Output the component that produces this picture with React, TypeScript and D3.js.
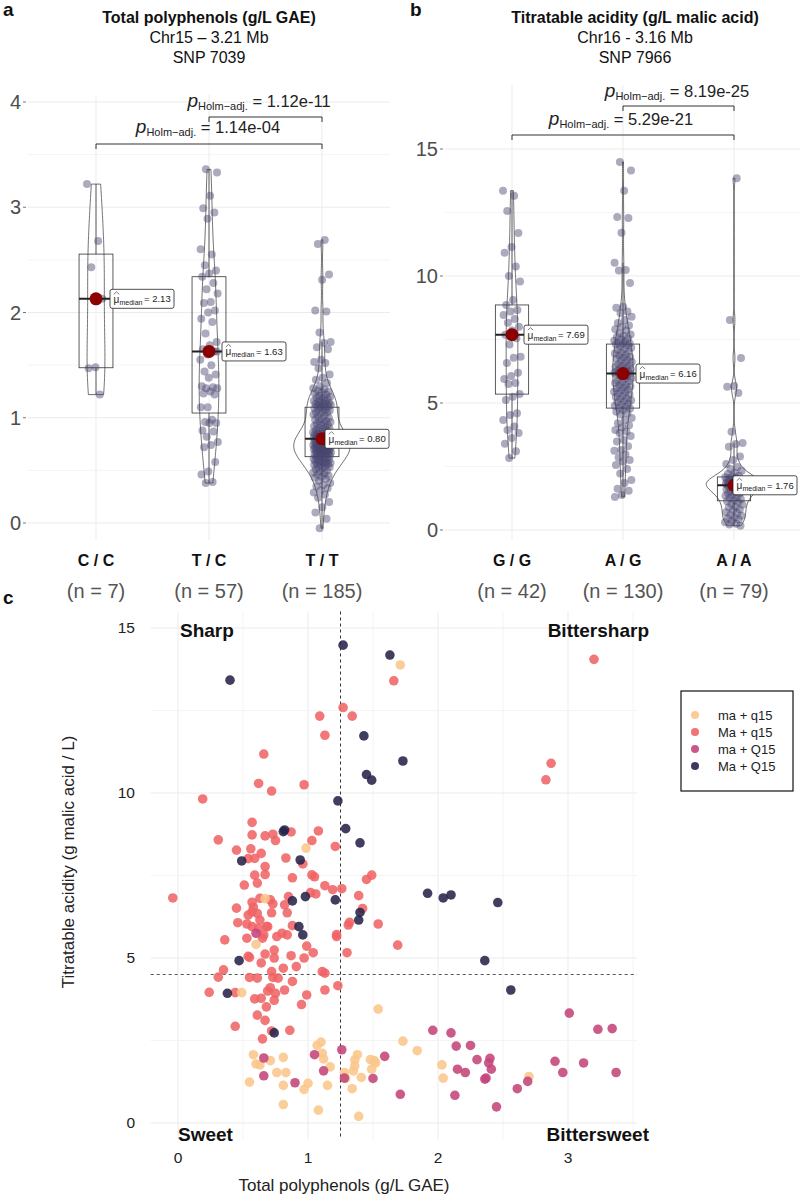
import React from "react";
import * as d3 from "d3";

const FONT = "'Liberation Sans', Arial, Helvetica, sans-serif";

// ---------- panel a : total polyphenols by SNP 7039 genotype ----------
const genoA = ["C / C", "T / C", "T / T"];
const countsA = [7, 57, 185];
const polyCC = [3.22, 2.68, 2.43, 2.13, 1.48, 1.47, 1.22];
const polyTC = [
  3.36, 3.33, 3.11, 2.99, 2.95, 2.89, 2.6, 2.55, 2.45, 2.4, 2.37, 2.34, 2.28, 2.22, 2.18, 2.1, 2.09, 2.02, 2.0,
  1.94, 1.91, 1.8, 1.72, 1.69, 1.65, 1.63, 1.6, 1.55, 1.5, 1.44, 1.41, 1.38, 1.3, 1.29, 1.28, 1.28, 1.25, 1.23,
  1.22, 1.1, 1.1, 0.98, 0.96, 0.95, 0.95, 0.88, 0.87, 0.82, 0.77, 0.74, 0.72, 0.58, 0.49, 0.46, 0.39, 0.38, 1.63,
];
const polyTT = [
  2.69, 2.65, 2.36, 2.31, 2.02, 2.01, 1.81, 1.72, 1.71, 1.67, 1.65, 1.55, 1.53, 1.52, 1.47, 1.41, 1.38, 1.36,
  1.33, 1.3, 1.28, 1.27, 1.26, 1.25, 1.24, 1.23, 1.22, 1.21, 1.2, 1.19, 1.19, 1.18, 1.17, 1.16, 1.16, 1.15,
  1.14, 1.14, 1.13, 1.13, 1.12, 1.12, 1.11, 1.11, 1.11, 1.1,
  1.09, 1.08, 1.08, 1.07, 1.06, 1.05, 1.05, 1.04, 1.03, 1.02, 1.01, 1.0, 0.99, 0.98, 0.97, 0.97, 0.96, 0.95,
  0.94, 0.93, 0.93, 0.92, 0.91, 0.9, 0.9, 0.89, 0.88, 0.88, 0.87, 0.86, 0.86, 0.85, 0.85, 0.84, 0.84, 0.83,
  0.83, 0.82, 0.82, 0.82, 0.81, 0.81, 0.81, 0.81, 0.8, 0.8, 0.8,
  0.79, 0.79, 0.79, 0.78, 0.78, 0.78, 0.77, 0.77, 0.77, 0.76, 0.76, 0.76, 0.75, 0.75, 0.75, 0.74, 0.74, 0.74,
  0.73, 0.73, 0.73, 0.72, 0.72, 0.72, 0.71, 0.71, 0.71, 0.7, 0.7, 0.7, 0.69, 0.69, 0.69, 0.68, 0.68, 0.68,
  0.67, 0.67, 0.67, 0.66, 0.66, 0.66, 0.65, 0.65, 0.64, 0.64,
  0.63, 0.63, 0.62, 0.62, 0.61, 0.61, 0.6, 0.6, 0.59, 0.59, 0.58, 0.58, 0.57, 0.57, 0.56, 0.56, 0.55, 0.55,
  0.54, 0.53, 0.53, 0.52, 0.51, 0.5, 0.49, 0.48, 0.47, 0.46, 0.45, 0.44, 0.43, 0.42, 0.4, 0.38, 0.36, 0.35,
  0.33, 0.31, 0.29, 0.27, 0.24, 0.2, 0.15, 0.1, 0.04, -0.05,
];
const q1A = [1.475, 1.045, 0.63];
const medA = [2.13, 1.63, 0.8];
const q3A = [2.555, 2.34, 1.1];
const pvalA = ["1.12e-11", "1.14e-04"];

// ---------- panel b : titratable acidity by SNP 7966 genotype ----------
const genoB = ["G / G", "A / G", "A / A"];
const countsB = [42, 130, 79];
const acidGG = [
  13.36, 13.16, 12.56, 11.69, 11.14, 10.92, 10.37, 10.0, 9.78, 9.06, 8.86, 8.66, 8.6, 8.46, 8.31, 8.16, 8.0,
  7.85, 7.69, 7.55, 7.3, 6.82, 6.78, 6.57, 6.19, 6.06, 5.94, 5.79, 5.75, 5.35, 5.25, 5.12, 4.6, 4.53, 4.33,
  4.07, 3.94, 3.82, 3.62, 3.4, 3.1, 2.83,
];
const acidAG = [
  14.49, 14.15, 13.36, 12.32, 12.28, 11.7, 10.52, 10.24, 10.22, 9.72, 8.79, 8.75, 8.6, 8.54, 8.4, 8.27, 8.15,
  8.05, 8.0, 7.9, 7.85, 7.75, 7.7, 7.65, 7.6, 7.55, 7.5, 7.45, 7.42, 7.38, 7.35, 7.33,
  7.31, 7.27, 7.22, 7.18, 7.14, 7.09, 7.03, 6.98, 6.95, 6.9, 6.87, 6.81, 6.79, 6.74, 6.7, 6.66, 6.61, 6.58,
  6.53, 6.49, 6.47, 6.43, 6.4, 6.35, 6.33, 6.29, 6.26, 6.24, 6.21, 6.2, 6.18, 6.17, 6.16,
  6.13, 6.11, 6.05, 6.03, 5.97, 5.95, 5.88, 5.86, 5.81, 5.79, 5.72, 5.7, 5.65, 5.61, 5.57, 5.52, 5.49, 5.44,
  5.41, 5.37, 5.33, 5.28, 5.24, 5.19, 5.16, 5.11, 5.07, 5.03, 4.98, 4.94, 4.89, 4.86, 4.81,
  4.78, 4.72, 4.66, 4.6, 4.55, 4.41, 4.33, 4.2, 4.12, 4.05, 3.94, 3.88, 3.82, 3.7, 3.54, 3.48, 3.3, 3.15, 3.12,
  2.98, 2.85, 2.76, 2.7, 2.56, 2.4, 2.22, 1.97, 1.85, 1.62, 1.55, 1.38, 1.3,
];
const acidAA = [
  13.85, 8.27, 6.77, 5.67, 5.64, 5.39, 3.87, 3.43, 3.39, 3.28, 2.89, 2.76, 2.6, 2.48, 2.4, 2.33, 2.25, 2.2,
  2.14, 2.11, 2.08, 2.05, 2.04, 2.0, 1.98, 1.97, 1.94, 1.93, 1.91, 1.89, 1.88, 1.86, 1.85, 1.83, 1.82, 1.8,
  1.79, 1.78, 1.77, 1.76, 1.75, 1.73, 1.7, 1.69, 1.66, 1.64, 1.6, 1.59, 1.55, 1.51, 1.5, 1.45, 1.43, 1.37,
  1.35, 1.29, 1.27, 1.21, 1.17, 1.13, 1.09, 1.03, 0.99, 0.92, 0.89, 0.81, 0.78, 0.7, 0.67, 0.59, 0.56, 0.49,
  0.46, 0.41, 0.34, 0.31, 0.25, 0.22, 0.17,
];
const q1B = [5.35, 4.8, 1.15];
const medB = [7.69, 6.16, 1.76];
const q3B = [8.86, 7.32, 2.09];
const pvalB = ["8.19e-25", "5.29e-21"];

// ---------- panel c : polyphenols vs acidity, [g/L GAE, g malic acid/L] ----------
const groupsC = ["ma + q15", "Ma + q15", "ma + Q15", "Ma + Q15"];
const colorsC = ["#FBC68A", "#EF6465", "#C4457A", "#28234A"];
const ptsMaq = [
  [1.66, 13.4], [1.27, 12.59], [1.09, 12.33], [1.34, 12.33], [1.13, 11.75], [0.66, 11.18], [0.62, 10.29],
  [0.97, 10.25], [0.72, 10.06], [0.19, 9.82], [0.57, 9.11], [0.31, 8.58], [0.57, 8.73], [0.67, 8.7],
  [0.73, 8.75], [0.75, 8.56], [0.87, 8.82], [1.08, 8.85], [1.03, 8.56], [1.21, 8.38], [0.45, 8.27],
  [0.56, 8.31], [0.64, 8.17], [0.54, 8.01], [0.59, 8.02], [0.83, 8.03], [0.96, 7.85], [0.67, 7.77],
  [0.59, 7.51], [0.67, 7.53], [0.88, 7.43], [1.03, 7.52], [1.05, 7.46], [0.61, 7.27], [0.51, 7.21],
  [1.13, 7.19], [1.19, 7.07], [1.26, 7.1], [1.45, 7.38], [1.49, 7.51], [-0.04, 6.82], [1.02, 6.98],
  [1.06, 6.94], [1.39, 6.89], [2.87, 10.9], [2.83, 10.4], [3.2, 14.05],
  [0.63, 6.81], [0.57, 6.69], [0.71, 6.76], [0.85, 6.86], [0.73, 6.64], [0.82, 6.61], [0.45, 6.51],
  [0.58, 6.54], [0.57, 6.4], [0.54, 6.3], [0.63, 6.15], [0.61, 6.35], [0.68, 5.95], [0.72, 6.37],
  [0.84, 6.37], [1.42, 6.5], [1.31, 6.0], [1.54, 6.03], [1.69, 5.39], [0.46, 6.07], [0.53, 6.03],
  [0.57, 5.95], [0.62, 5.9], [0.66, 5.7], [0.69, 5.95], [0.8, 5.75], [0.76, 5.65], [0.84, 5.7], [0.88, 5.98],
  [0.36, 5.55], [0.53, 5.6], [0.65, 5.6], [0.99, 5.36], [1.04, 5.16], [1.22, 5.65], [0.67, 5.12],
  [0.74, 5.24], [0.55, 5.02], [1.3, 5.16], [1.32, 6.08],
  [0.24, 3.96], [0.31, 4.42], [0.35, 4.64], [0.44, 3.95], [0.44, 2.93], [0.55, 4.41], [0.61, 4.39],
  [0.59, 3.76], [0.64, 3.78], [0.61, 3.27], [0.65, 2.55], [0.67, 3.11], [0.68, 3.52], [0.69, 4.0],
  [0.71, 4.1], [0.73, 4.41], [0.72, 4.59], [0.74, 3.72], [0.75, 3.93], [0.77, 4.39], [0.81, 4.69],
  [0.82, 4.03], [0.88, 4.29], [0.91, 4.74], [0.86, 2.81], [0.72, 2.79], [0.95, 3.59], [0.99, 3.88],
  [0.97, 5.0], [1.11, 4.59], [1.13, 4.54], [1.13, 4.03], [1.23, 4.16], [1.22, 5.71], [0.64, 4.85],
  [0.74, 5.0], [0.54, 5.05], [0.87, 5.07],
];
const ptsmaq = [
  [1.71, 13.88], [0.985, 8.33], [0.67, 6.8], [0.6, 5.41], [0.49, 3.95], [1.54, 3.45], [1.07, 2.35],
  [1.1, 2.45], [1.11, 2.11], [1.12, 1.94], [0.58, 2.07], [0.6, 1.79], [0.63, 1.76], [0.71, 1.89], [0.81, 1.99],
  [0.76, 1.53], [0.83, 1.53], [0.55, 1.24], [0.81, 1.14], [0.97, 1.02], [1.0, 1.2], [0.81, 0.56], [1.08, 0.39],
  [1.15, 1.14], [1.17, 1.7], [1.28, 1.53], [1.29, 1.35], [1.41, 1.38], [1.34, 1.04], [1.35, 1.58],
  [1.36, 1.91], [1.38, 2.07], [1.36, 1.73], [1.49, 1.63], [1.51, 1.89], [1.48, 1.92], [1.52, 1.82],
  [1.39, 0.2], [1.73, 2.48], [1.84, 2.19], [2.03, 1.76], [2.04, 1.36], [2.7, 1.41],
];
const ptsmaQ = [
  [0.6, 5.75], [1.26, 2.22], [1.28, 1.36], [1.05, 2.07], [1.12, 1.58], [0.9, 1.22], [0.66, 1.97], [0.66, 1.43],
  [1.5, 1.35], [1.59, 2.02], [1.71, 0.87], [1.96, 2.81], [2.1, 2.73], [2.14, 2.33], [2.25, 2.35], [2.3, 1.92],
  [2.39, 1.82], [2.4, 1.96], [2.41, 1.63], [2.15, 1.63], [2.21, 1.53], [2.36, 1.33], [2.37, 1.36],
  [2.13, 0.84], [2.45, 0.49], [2.61, 1.04], [2.69, 1.26], [2.9, 1.87], [2.96, 1.53], [3.01, 3.33],
  [3.12, 1.82], [3.23, 2.84], [3.34, 2.86], [3.37, 1.53],
];
const ptsMaQ = [
  [1.27, 14.48], [1.63, 14.18], [0.4, 13.42], [1.43, 11.73], [1.73, 10.97], [1.45, 10.56], [1.49, 10.39],
  [1.23, 9.76], [0.81, 8.83], [0.82, 8.88], [1.29, 8.92], [1.4, 8.49], [0.49, 7.94], [0.94, 7.97],
  [1.92, 6.96], [0.88, 6.73], [0.98, 6.86], [1.21, 6.76], [2.04, 6.82], [2.1, 6.91], [2.46, 6.68],
  [1.4, 6.38], [1.39, 6.15], [0.93, 5.95], [0.96, 5.7], [2.36, 4.92], [0.47, 4.92], [2.56, 4.03],
  [0.38, 3.93], [0.74, 2.73],
];
const thresholdTP = 1.25;
const thresholdTA = 4.5;

// ---------- helpers ----------
type Dens = { v: number; d: number };

function kde(values: number[]): Dens[] {
  const s = [...values].sort(d3.ascending);
  const n = s.length;
  const sd = d3.deviation(s) ?? 1;
  const iqr = d3.quantile(s, 0.75)! - d3.quantile(s, 0.25)!;
  let bw = 0.9 * Math.min(sd, iqr / 1.34) * Math.pow(n, -0.2);
  if (!(bw > 0)) bw = 0.9 * sd * Math.pow(n, -0.2);
  const lo = s[0], hi = s[n - 1];
  return d3.range(0, 161).map(i => {
    const v = lo + ((hi - lo) * i) / 160;
    const d = d3.mean(s, x => Math.exp(-0.5 * ((v - x) / bw) ** 2))! / (bw * Math.sqrt(2 * Math.PI));
    return { v, d };
  });
}

// fixed horizontal spread for the jittered points
const jit = (i: number) => ((i * 0.6180339887) % 1) - 0.5;

type Bracket = { a: number; b: number; label: string; by: number; ty: number; tx: number };

type VProps = {
  tag: string; tagX: number; title: string[]; titleX: number;
  cats: string[]; counts: number[]; groups: number[][];
  q1: number[]; med: number[]; q3: number[];
  xs: [number, number]; yDomain: [number, number]; yRange: [number, number];
  gridX: [number, number]; gridY: [number, number];
  ticks: number[]; minor: number[]; tickX: number;
  brackets: Bracket[]; nudge: number[];
};

function ViolinPanel(p: VProps) {
  const x = d3.scalePoint<string>().domain(p.cats).range(p.xs);
  const y = d3.scaleLinear().domain(p.yDomain).range(p.yRange);
  const dens = p.groups.map(kde);
  const dmax = d3.max(dens, g => d3.max(g, d => d.d))!;
  const half = x.step() * 0.25;
  const boxW = x.step() * 0.3;

  return (
    <g>
      {p.minor.map(t => (
        <line key={"m" + t} x1={p.gridX[0]} x2={p.gridX[1]} y1={y(t)} y2={y(t)} stroke="#F4F4F4" />
      ))}
      {p.ticks.map(t => (
        <line key={"g" + t} x1={p.gridX[0]} x2={p.gridX[1]} y1={y(t)} y2={y(t)} stroke="#EBEBEB" />
      ))}
      {p.cats.map(c => (
        <line key={"v" + c} x1={x(c)} x2={x(c)} y1={p.gridY[0]} y2={p.gridY[1]} stroke="#EBEBEB" />
      ))}
      {p.ticks.map(t => (
        <g key={"t" + t}>
          <line x1={p.tickX + 2} x2={p.tickX + 5} y1={y(t)} y2={y(t)} stroke="#777" />
          <text x={p.tickX} y={y(t)} dy="0.35em" textAnchor="end" fontSize={20} fill="#4D4D4D">{t}</text>
        </g>
      ))}

      {dens.map((g, i) => {
        const cx = x(p.cats[i])!;
        const area = d3.area<Dens>()
          .y(d => y(d.v))
          .x0(d => cx - (half * d.d) / dmax)
          .x1(d => cx + (half * d.d) / dmax)
          .curve(d3.curveMonotoneY);
        return <path key={"vi" + i} d={area(g)!} fill="#fff" fillOpacity={0.2} stroke="#333" strokeWidth={0.7} />;
      })}

      {p.groups.map((vals, i) => {
        const cx = x(p.cats[i])!;
        const iqr = p.q3[i] - p.q1[i];
        const lo = d3.min(vals.filter(v => v >= p.q1[i] - 1.5 * iqr))!;
        const hi = d3.max(vals.filter(v => v <= p.q3[i] + 1.5 * iqr))!;
        return (
          <g key={"b" + i}>
            <line x1={cx} x2={cx} y1={y(p.q3[i])} y2={y(hi)} stroke="#333" strokeWidth={0.8} />
            <line x1={cx} x2={cx} y1={y(p.q1[i])} y2={y(lo)} stroke="#333" strokeWidth={0.8} />
            <rect x={cx - boxW / 2} width={boxW} y={y(p.q3[i])} height={y(p.q1[i]) - y(p.q3[i])}
              fill="none" stroke="#333" strokeWidth={0.8} />
          </g>
        );
      })}

      {p.groups.map((vals, i) => {
        const cx = x(p.cats[i])!;
        return vals.map((v, k) => (
          <circle key={"p" + i + "-" + k} cx={cx + jit(k + i * 7) * 18} cy={y(v)} r={4}
            fill="#46446E" fillOpacity={0.45} />
        ));
      })}

      {p.med.map((m, i) => {
        const cx = x(p.cats[i])!;
        const ym = y(m);
        const lx = cx + p.nudge[i];
        return (
          <g key={"md" + i}>
            <line x1={cx - boxW / 2} x2={cx + boxW / 2} y1={ym} y2={ym} stroke="#222" strokeWidth={2} />
            <circle cx={cx} cy={ym} r={6.5} fill="#8B0000" />
            <rect x={lx} y={ym - 9.5} width={64} height={19} rx={2} fill="#fff" stroke="#222" strokeWidth={0.8} />
            <text x={lx + 3.5} y={ym + 4} fontSize={10} fill="#222">μ</text>
            <polyline points={`${lx + 3.8},${ym - 4.5} ${lx + 6.5},${ym - 7} ${lx + 9.2},${ym - 4.5}`}
              fill="none" stroke="#222" strokeWidth={0.6} />
            <text x={lx + 9.5} y={ym + 6} fontSize={7} fill="#222">median</text>
            <text x={lx + 34} y={ym + 3.5} fontSize={9.5} fill="#222">= {m.toFixed(2)}</text>
          </g>
        );
      })}

      {p.brackets.map((b, i) => {
        const xa = x(p.cats[b.a])!;
        const xb = x(p.cats[b.b])!;
        return (
          <g key={"br" + i}>
            <path d={`M${xa},${b.by + 5}V${b.by}H${xb}V${b.by + 5}`} fill="none" stroke="#333" strokeWidth={1} />
            <text x={b.tx} y={b.ty} textAnchor="middle" fill="#222">
              <tspan fontStyle="italic" fontSize={19}>p</tspan>
              <tspan fontSize={11} dy={3}>Holm−adj.</tspan>
              <tspan fontSize={16.5} dy={-3}>{" = " + b.label}</tspan>
            </text>
          </g>
        );
      })}

      {p.cats.map((c, i) => (
        <g key={"c" + c}>
          <text x={x(c)} y={566} textAnchor="middle" fontSize={16} fontWeight="bold" fill="#111">{c}</text>
          <text x={x(c)} y={598} textAnchor="middle" fontSize={20} fill="#555">{`(n = ${p.counts[i]})`}</text>
        </g>
      ))}

      <text x={p.tagX} y={16} fontSize={19} fontWeight="bold" fill="#111">{p.tag}</text>
      <text x={p.titleX} y={23} textAnchor="middle" fontSize={16} fontWeight="bold" fill="#111">{p.title[0]}</text>
      <text x={p.titleX} y={43} textAnchor="middle" fontSize={16} fill="#111">{p.title[1]}</text>
      <text x={p.titleX} y={63} textAnchor="middle" fontSize={16} fill="#111">{p.title[2]}</text>
    </g>
  );
}

function ScatterPanel() {
  const x = d3.scaleLinear().domain([0, 3]).range([178, 568]);
  const y = d3.scaleLinear().domain([0, 15]).range([1123, 628]);
  const left = x(-0.21), right = x(3.53), top = y(15.5), bottom = y(-0.5);
  const vGrid = d3.range(0, 3.51, 0.5);
  const hGrid = d3.range(0, 15.01, 2.5);
  const sets = [ptsMaq, ptsmaq, ptsmaQ, ptsMaQ];
  const colorOf = [1, 0, 2, 3];

  return (
    <g>
      {vGrid.map(t => (
        <line key={"vx" + t} x1={x(t)} x2={x(t)} y1={top} y2={bottom}
          stroke={t % 1 === 0 ? "#EBEBEB" : "#F4F4F4"} />
      ))}
      {hGrid.map(t => (
        <line key={"hy" + t} x1={left} x2={right} y1={y(t)} y2={y(t)}
          stroke={t % 5 === 0 ? "#EBEBEB" : "#F4F4F4"} />
      ))}
      <line x1={x(thresholdTP)} x2={x(thresholdTP)} y1={top} y2={bottom} stroke="#333" strokeDasharray="3,3" />
      <line x1={left} x2={right} y1={y(thresholdTA)} y2={y(thresholdTA)} stroke="#555" strokeDasharray="3,3" />

      {sets.map((pts, s) =>
        pts.map((d, k) => (
          <circle key={"s" + s + "-" + k} cx={x(d[0])} cy={y(d[1])} r={4.8}
            fill={colorsC[colorOf[s]]} fillOpacity={0.88} />
        ))
      )}

      {[0, 5, 10, 15].map(t => (
        <text key={"yt" + t} x={135} y={y(t)} dy="0.35em" textAnchor="end" fontSize={15.5} fill="#222">{t}</text>
      ))}
      {[0, 1, 2, 3].map(t => (
        <text key={"xt" + t} x={x(t)} y={1163} textAnchor="middle" fontSize={15.5} fill="#222">{t}</text>
      ))}
      <text x={344} y={1191} textAnchor="middle" fontSize={17} fill="#222">Total polyphenols (g/L GAE)</text>
      <text transform={`translate(74,${862}) rotate(-90)`} textAnchor="middle" fontSize={17} fill="#222">
        Titratable acidity (g malic acid / L)
      </text>

      <text x={180} y={637} fontSize={19} fontWeight="bold" fill="#111">Sharp</text>
      <text x={649} y={637} textAnchor="end" fontSize={19} fontWeight="bold" fill="#111">Bittersharp</text>
      <text x={178} y={1141} fontSize={19} fontWeight="bold" fill="#111">Sweet</text>
      <text x={649} y={1141} textAnchor="end" fontSize={19} fontWeight="bold" fill="#111">Bittersweet</text>

      <rect x={681} y={691} width={112} height={100} fill="#fff" stroke="#111" strokeWidth={1.2} />
      {groupsC.map((g, i) => (
        <g key={"lg" + g}>
          <circle cx={695} cy={715 + i * 17} r={4} fill={colorsC[i]} fillOpacity={0.9} />
          <text x={718} y={715 + i * 17} dy="0.35em" fontSize={13} fill="#222">{g}</text>
        </g>
      ))}

      <text x={3} y={604} fontSize={19} fontWeight="bold" fill="#111">c</text>
    </g>
  );
}

export default function App() {
  return (
    <svg width={800} height={1197} fontFamily={FONT}
      style={{ position: "absolute", left: 0, top: 0, background: "#fff" }}>
      <rect width={800} height={1197} fill="#fff" />
      <ViolinPanel
        tag="a" tagX={3} titleX={209}
        title={["Total polyphenols (g/L GAE)", "Chr15 – 3.21 Mb", "SNP 7039"]}
        cats={genoA} counts={countsA} groups={[polyCC, polyTC, polyTT]}
        q1={q1A} med={medA} q3={q3A}
        xs={[96, 322]} yDomain={[0, 4]} yRange={[523, 102]}
        gridX={[28, 390]} gridY={[95, 540]}
        ticks={[0, 1, 2, 3, 4]} minor={[0.5, 1.5, 2.5, 3.5]} tickX={21}
        brackets={[
          { a: 1, b: 2, label: pvalA[0], by: 117, ty: 107, tx: 259 },
          { a: 0, b: 2, label: pvalA[1], by: 144, ty: 133, tx: 208 },
        ]}
        nudge={[14, 13, 3]}
      />
      <ViolinPanel
        tag="b" tagX={410} titleX={635}
        title={["Titratable acidity (g/L malic acid)", "Chr16 - 3.16 Mb", "SNP 7966"]}
        cats={genoB} counts={countsB} groups={[acidGG, acidAG, acidAA]}
        q1={q1B} med={medB} q3={q3B}
        xs={[512, 734]} yDomain={[0, 15]} yRange={[530, 149]}
        gridX={[445, 800]} gridY={[85, 540]}
        ticks={[0, 5, 10, 15]} minor={[2.5, 7.5, 12.5]} tickX={438}
        brackets={[
          { a: 1, b: 2, label: pvalB[0], by: 106, ty: 97, tx: 677 },
          { a: 0, b: 2, label: pvalB[1], by: 135, ty: 125, tx: 621 },
        ]}
        nudge={[12, 13, -1]}
      />
      <ScatterPanel />
    </svg>
  );
}
